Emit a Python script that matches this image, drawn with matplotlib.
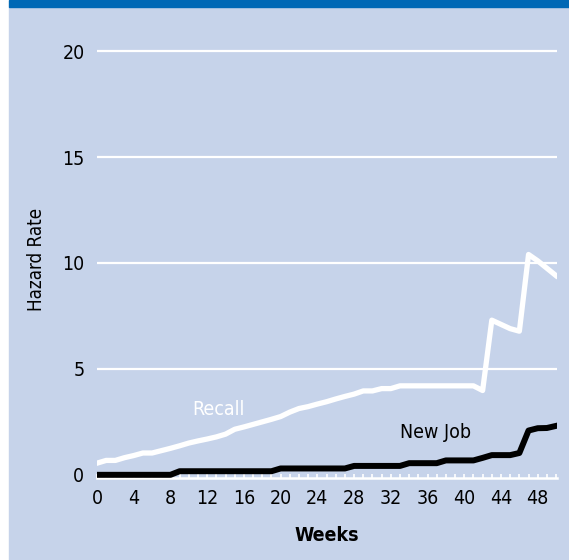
import matplotlib
matplotlib.use("Agg")
import matplotlib.pyplot as plt
from matplotlib.patches import Rectangle
from matplotlib.ticker import MultipleLocator
import numpy as np

plt.rcParams['font.family'] = ['DejaVu Sans']
plt.rcParams['font.stretch'] = 'condensed'

weeks = np.arange(0, 51)
recall = [0.55, 0.68, 0.68, 0.81, 0.91, 1.03, 1.03, 1.14, 1.25, 1.37,
          1.50, 1.60, 1.69, 1.79, 1.92, 2.15, 2.26, 2.38, 2.50, 2.62,
          2.75, 2.96, 3.13, 3.22, 3.34, 3.45, 3.58, 3.70, 3.81, 3.96,
          3.96, 4.07, 4.07, 4.20, 4.20, 4.20, 4.20, 4.20, 4.20, 4.20,
          4.20, 4.20, 3.98, 7.30, 7.10, 6.90, 6.78, 10.40, 10.10, 9.75,
          9.40]
new_job = [0.0] * 9 + [0.17] * 11 + [0.30] * 8 + [0.42] * 6 + [0.55] * 4 \
    + [0.68] * 4 + [0.80, 0.93, 0.93, 0.93, 1.03, 2.09, 2.20, 2.21, 2.31]

x_ticks = list(range(0, 49, 4))
y_ticks = [0, 5, 10, 15, 20]

bg = '#c6d3ea'
band = '#0068b5'

W, H = 569, 560
fig = plt.figure(figsize=(W / 100, H / 100), dpi=100)
fig.patch.set_facecolor('white')
# light panel and the dark strip along the top, kept behind the axes
fig.add_artist(Rectangle((9 / W, 0), 1 - 9 / W, 1 - 7 / H,
                         transform=fig.transFigure, color=bg, zorder=-5))
fig.add_artist(Rectangle((9 / W, 1 - 7 / H), 1 - 9 / W, 7 / H,
                         transform=fig.transFigure, color=band, zorder=-5))

ax = fig.add_axes([97 / W, 82 / H, 460 / W, 429 / H])
ax.set_zorder(2)
ax.set_facecolor('none')
ax.set_xlim(0, 50.1)
ax.set_ylim(-0.15, 20.1)

for y in y_ticks[1:]:
    ax.axhline(y, color='white', lw=1.6, zorder=1)

ax.plot(weeks, recall, color='white', lw=3.8, zorder=3)
ax.plot(weeks, new_job, color='black', lw=4.3, zorder=4)

ax.text(13.2, 3.07, 'Recall', color='white', fontsize=14,
        ha='center', va='center')
ax.text(36.9, 2.0, 'New Job', color='black', fontsize=14,
        ha='center', va='center')

for s in ['top', 'right', 'left']:
    ax.spines[s].set_visible(False)
ax.spines['bottom'].set_color('white')
ax.spines['bottom'].set_linewidth(1.8)

ax.set_xticks(x_ticks)
ax.xaxis.set_minor_locator(MultipleLocator(1))
ax.tick_params(axis='x', which='both', direction='in', color='white',
               length=3, width=1.2, labelsize=14, pad=8)
ax.set_yticks(y_ticks)
ax.tick_params(axis='y', length=0, labelsize=14, pad=9)

ax.set_xlabel('Weeks', fontsize=14, fontweight='bold', labelpad=13)
ax.set_ylabel('Hazard Rate', fontsize=13.5)
ax.yaxis.set_label_coords(-0.11, 0.51)

fig.savefig('out.png', dpi=100, facecolor=fig.get_facecolor())
